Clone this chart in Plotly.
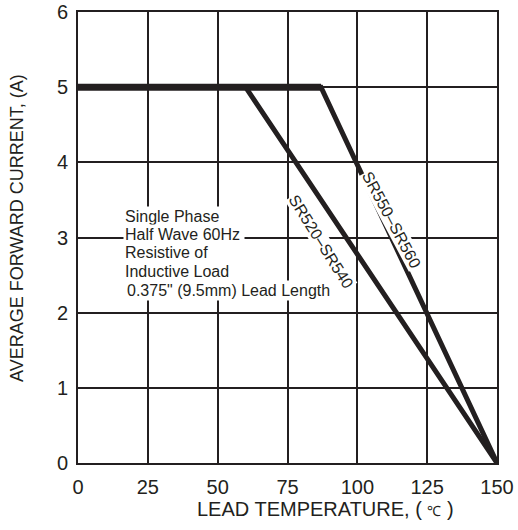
import plotly.graph_objects as go

# Data
temp_sr520 = [0, 60, 150]
curr_sr520 = [5, 5, 0]
temp_sr550 = [0, 87, 150]
curr_sr550 = [5, 5, 0]

x_ticks = [0, 25, 50, 75, 100, 125, 150]
x_tick_labels = ["0", "25", "50", "75", "100", "125", "150"]
y_ticks = [0, 1, 2, 3, 4, 5, 6]
y_tick_labels = ["0", "1", "2", "3", "4", "5", "6"]

note_lines = ["Single Phase", "Half Wave 60Hz", "Resistive of",
              "Inductive Load", "0.375\" (9.5mm) Lead Length"]

INK = "#231f20"
FONT = "Liberation Sans, Arial, sans-serif"

L, R, T, B = 78, 21, 12, 67
W, H = 518, 530
pw, ph = W - L - R, H - T - B


def px_to_paper(px, py):
    return (px - L) / pw, (H - py - B) / ph


fig = go.Figure()
fig.add_trace(go.Scatter(x=temp_sr520, y=curr_sr520, mode="lines",
                         line=dict(color=INK, width=5), cliponaxis=False,
                         name="SR520-SR540"))
fig.add_trace(go.Scatter(x=temp_sr550, y=curr_sr550, mode="lines",
                         line=dict(color=INK, width=5), cliponaxis=False,
                         name="SR550-SR560"))
# thicker flat (rated) portion, as in the reference
fig.add_trace(go.Scatter(x=temp_sr550[:2], y=curr_sr550[:2], mode="lines",
                         line=dict(color=INK, width=7), cliponaxis=False,
                         name="flat"))

annotations = []
note_y = [3.286, 3.04, 2.794, 2.548, 2.30]
for i, (txt, yy) in enumerate(zip(note_lines, note_y)):
    a = dict(x=16.1, y=yy, xref="x", yref="y", text=txt,
             showarrow=False, xanchor="left", yanchor="middle", align="left",
             font=dict(family=FONT, size=16, color=INK),
             bgcolor="white", borderpad=1)
    if i < 4:
        a["width"] = 118
    else:
        a["x"] = 16.8
    annotations.append(a)

annotations.append(dict(x=112.4, y=3.23, xref="x", yref="y", text="SR550–SR560",
                        showarrow=False, textangle=62,
                        font=dict(family=FONT, size=16, color=INK),
                        bgcolor="white", borderpad=0))
annotations.append(dict(x=87.0, y=2.95, xref="x", yref="y", text="SR520–SR540",
                        showarrow=False, textangle=58,
                        font=dict(family=FONT, size=16, color=INK),
                        bgcolor="white", borderpad=0))

# axis titles
xt = px_to_paper(325, 509)
annotations.append(dict(x=xt[0], y=xt[1], xref="paper", yref="paper",
                        text="LEAD TEMPERATURE, ( <span style='font-size:14px'>℃</span> )",
                        showarrow=False, xanchor="center", yanchor="middle",
                        font=dict(family=FONT, size=20, color=INK)))
yt = px_to_paper(17, 228)
annotations.append(dict(x=yt[0], y=yt[1], xref="paper", yref="paper",
                        text="AVERAGE FORWARD CURRENT, (A)", textangle=-90,
                        showarrow=False, xanchor="center", yanchor="middle",
                        font=dict(family=FONT, size=18, color=INK)))

fig.update_layout(
    width=W, height=H,
    margin=dict(l=L, r=R, t=T, b=B, autoexpand=False),
    plot_bgcolor="white", paper_bgcolor="white",
    showlegend=False,
    annotations=annotations,
    font=dict(family=FONT, color=INK),
)
fig.update_xaxes(range=[0, 150], tickvals=x_ticks, ticktext=x_tick_labels,
                 showgrid=True, gridcolor=INK, gridwidth=2,
                 showline=True, linecolor=INK, linewidth=2, mirror=True,
                 zeroline=False, ticks="", ticklabelstandoff=5,
                 automargin=False, ticklabeloverflow="allow",
                 tickfont=dict(family=FONT, size=20, color=INK))
fig.update_yaxes(range=[0, 6], tickvals=y_ticks, ticktext=y_tick_labels,
                 showgrid=True, gridcolor=INK, gridwidth=2,
                 showline=True, linecolor=INK, linewidth=2, mirror=True,
                 zeroline=False, ticks="", ticklabelstandoff=4,
                 automargin=False, ticklabeloverflow="allow",
                 tickfont=dict(family=FONT, size=20, color=INK))

fig.write_html("out.html",
               config={"displayModeBar": False},
               post_script="document.body.style.margin='0';"
                           "document.body.style.overflow='hidden';")
